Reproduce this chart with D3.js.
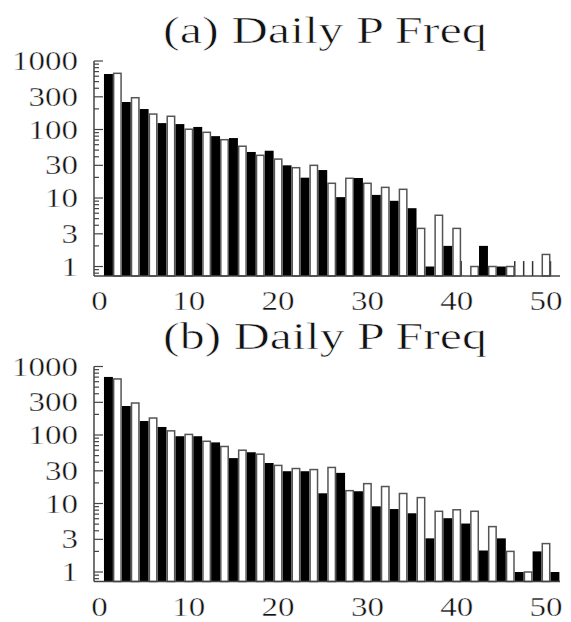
<!DOCTYPE html>
<html>
<head>
<meta charset="utf-8">
<script src="https://cdn.jsdelivr.net/npm/d3@7"></script>
<style>
  body { margin: 0; background: #fff; }
  text { font-family: "Liberation Serif", serif; fill: #111; stroke: #fff; stroke-width: 0.4px; }
</style>
</head>
<body>
<div id="app"></div>
<script>
// tick labels
const xTicks = [0, 10, 20, 30, 40, 50];
const yTicks = [1, 3, 10, 30, 100, 300, 1000];
const titles = ["(a) Daily P Freq", "(b) Daily P Freq"];

// black bars sit at x = 1, 3, 5 ... 51, white bars at x = 2, 4 ... 50
const blackA = [646, 252, 199, 124, 120, 109, 80, 75, 47, 49, 30, 19.8, 25.6,
  10.3, 19.6, 11.1, 9.1, 7.1, 1, 2, 0, 2, 1, 0, 0, 0];
const whiteA = [661, 291, 168, 156, 101, 91, 71, 57, 42, 37, 27.7, 30, 16.4,
  19.4, 16.4, 14.3, 13.4, 3.6, 5.6, 3.6, 1, 1, 1, 0, 1.5];
const blackB = [704, 265, 160, 131, 96, 96, 78, 46, 56, 39, 29.6, 29.6, 14.1,
  28, 15.1, 9.1, 8.3, 7.2, 3.1, 6.1, 5.1, 2.06, 3.1, 1, 2, 1];
const whiteB = [658, 293, 177, 115, 102, 81, 68, 60, 52.5, 36, 32.4, 31.3, 33.6,
  15.4, 19.5, 17.7, 14, 12.2, 7.7, 8.1, 7.7, 4.6, 2, 1, 2.6];

const W = 571, H = 622;
const svg = d3.select("#app").append("svg")
  .attr("width", W).attr("height", H);

const x = d3.scaleLinear().domain([0, 50]).range([99.5, 546]);
const bw = x(1) - x(0);
const axisLeft = 94, axisRight = 560;

const panels = [
  {title: titles[0], black: blackA, white: whiteA, top: 61},
  {title: titles[1], black: blackB, white: whiteB, top: 366.5}
];

panels.forEach(p => {
  const y = d3.scaleLog().domain([0.727, 1000]).range([p.top + 215, p.top]);
  const g = svg.append("g");
  const base = y.range()[0];

  // title
  g.append("text")
    .attr("x", 163).attr("y", p.top - 18)
    .attr("font-size", 37)
    .style("stroke-width", "0.6px")
    .attr("textLength", 324).attr("lengthAdjust", "spacingAndGlyphs")
    .text(p.title);

  const bars = [];
  p.black.forEach((v, i) => bars.push({pos: 2 * i + 0.5, v: v, c: "black"}));
  p.white.forEach((v, i) => bars.push({pos: 2 * i + 1.5, v: v, c: "white"}));

  // zero bins leave a thin stub on the log axis
  g.selectAll(".stub")
    .data(bars.filter(d => d.v <= 0))
    .enter().append("line")
    .attr("x1", d => x(d.pos)).attr("x2", d => x(d.pos))
    .attr("y1", base).attr("y2", y(1.2))
    .attr("stroke", "#333").attr("stroke-width", 1.5);

  g.selectAll(".bar")
    .data(bars.filter(d => d.v > 0))
    .enter().append("rect")
    .attr("x", d => x(d.pos) + (d.c === "white" ? 0.75 : 0))
    .attr("y", d => y(d.v))
    .attr("width", d => d.c === "white" ? bw - 1.5 : bw)
    .attr("height", d => base - y(d.v))
    .attr("fill", d => d.c === "black" ? "#000" : "#fff")
    .attr("stroke", d => d.c === "black" ? "none" : "#555")
    .attr("stroke-width", 1.5);

  // y axis with log ticks pointing inward
  const minor = [];
  [0.1, 1, 10, 100].forEach(dec => {
    for (let k = 1; k < 10; k++) {
      const v = dec * k;
      if (v >= 0.727 && v <= 1000) minor.push(v);
    }
  });
  minor.push(1000);
  g.selectAll(".ytick")
    .data(minor)
    .enter().append("line")
    .attr("x1", axisLeft).attr("y1", d => y(d))
    .attr("x2", d => axisLeft + (yTicks.includes(d) ? 9 : 5)).attr("y2", d => y(d))
    .attr("stroke", "#444").attr("stroke-width", 1.2);

  g.append("line")
    .attr("x1", axisLeft).attr("x2", axisLeft)
    .attr("y1", base).attr("y2", p.top)
    .attr("stroke", "#444").attr("stroke-width", 1.5);
  g.append("line")
    .attr("x1", axisLeft).attr("x2", axisRight)
    .attr("y1", base).attr("y2", base)
    .attr("stroke", "#444").attr("stroke-width", 1.5);

  g.selectAll(".ylab")
    .data(yTicks)
    .enter().append("text")
    .attr("x", 78).attr("y", d => y(d) + 9)
    .attr("text-anchor", "end")
    .attr("font-size", 27)
    .attr("textLength", d => String(d).length * 16.5)
    .attr("lengthAdjust", "spacingAndGlyphs")
    .text(d => d);

  g.selectAll(".xlab")
    .data(xTicks)
    .enter().append("text")
    .attr("x", d => x(d)).attr("y", base + 34)
    .attr("text-anchor", "middle")
    .attr("font-size", 27)
    .attr("textLength", d => String(d).length * 16.5)
    .attr("lengthAdjust", "spacingAndGlyphs")
    .text(d => d);
});
</script>
</body>
</html>
